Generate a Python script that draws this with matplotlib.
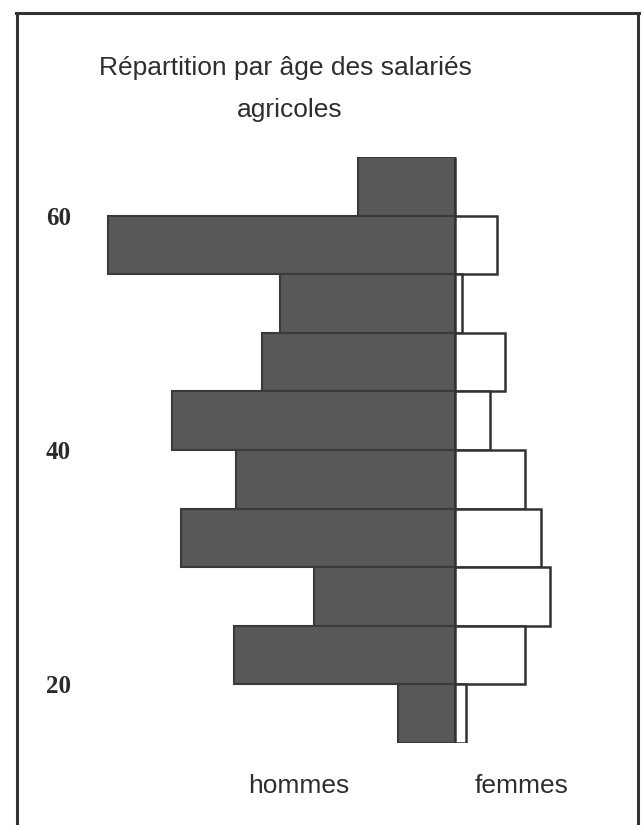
import matplotlib.pyplot as plt
from matplotlib.lines import Line2D

# age classes (lower bound of each 5-year class), top to bottom
ages = [60, 55, 50, 45, 40, 35, 30, 25, 20, 15]
hommes = [9.7, 34.7, 17.5, 19.3, 28.3, 21.9, 27.4, 14.1, 22.1, 5.7]
femmes = [0.0, 4.2, 0.7, 5.0, 3.5, 7.0, 8.6, 9.5, 7.0, 1.1]
age_ticks = [20, 40, 60]

W, H = 644, 825
fig = plt.figure(figsize=(W / 100, H / 100), dpi=100)

# axes: 100..560 px wide, 157..743 px tall
ax = fig.add_axes([100 / W, 1 - 743 / H, 460 / W, 586 / H])
ax.barh(ages, [-v for v in hommes], height=5, align='edge',
        color='#585858', edgecolor='#3a3a3a', linewidth=1.5)
ax.barh(ages, femmes, height=5, align='edge',
        color='white', edgecolor='#333333', linewidth=1.8)

ax.set_xlim(-35.5, 10.5)
ax.set_ylim(15, 65)
ax.set_xticks([])
ax.set_yticks(age_ticks)
ax.set_yticklabels([str(a) for a in age_ticks], family='Liberation Serif',
                   fontsize=18, fontweight='bold', color='#2a2a2a')
ax.tick_params(axis='y', length=0, pad=21)
for s in ax.spines.values():
    s.set_visible(False)

font = dict(family='Liberation Sans', fontsize=19, color='#2e2e2e')
fig.text(285 / W, 1 - 75 / H, "Répartition par âge des salariés", ha='center', va='baseline', **font)
fig.text(290 / W, 1 - 117 / H, "agricoles", ha='center', va='baseline', **font)
fig.text(299 / W, 1 - 793 / H, "hommes", ha='center', va='baseline', **font)
fig.text(522 / W, 1 - 793 / H, "femmes", ha='center', va='baseline', **font)

# frame of the original figure
lc = '#333333'
fig.add_artist(Line2D([17 / W, 17 / W], [0, 1 - 13 / H], color=lc, lw=2.2))
fig.add_artist(Line2D([638 / W, 638 / W], [0, 1 - 13 / H], color=lc, lw=2.2))
fig.add_artist(Line2D([16 / W, 639 / W], [1 - 13 / H, 1 - 13 / H], color=lc, lw=2.2))

fig.savefig('out.png', dpi=100)
